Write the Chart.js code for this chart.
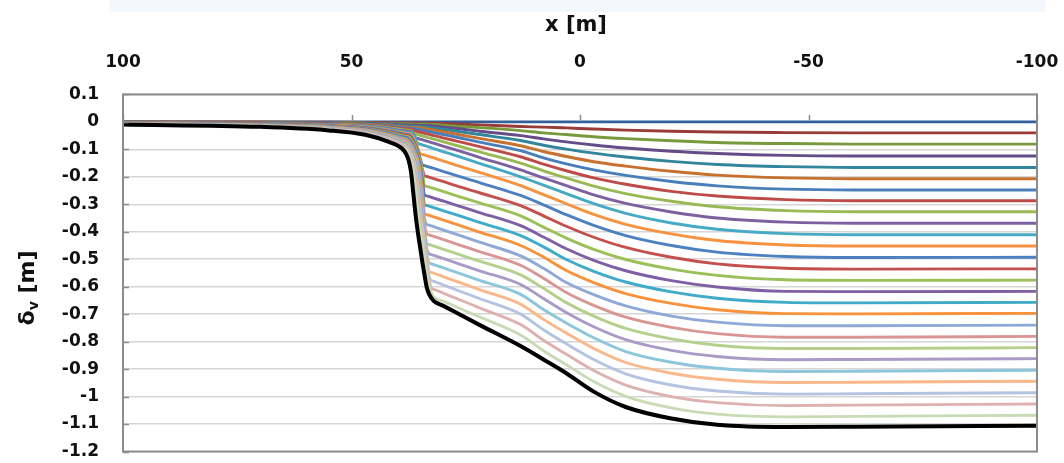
<!DOCTYPE html>
<html><head><meta charset="utf-8">
<script src="https://cdn.jsdelivr.net/npm/chart.js@4.4.1/dist/chart.umd.min.js"></script>
<style>html,body{margin:0;padding:0;background:#fff;overflow:hidden}#wrap{width:1064px;height:463px}</style>
</head><body><div id="wrap"><canvas id="c" width="1064" height="463"></canvas></div>
<script>
// ---- data (x in m, δv in m) ----
const X_TICKS = [100, 50, 0, -50, -100];
const Y_TICKS = [0.1, 0, -0.1, -0.2, -0.3, -0.4, -0.5, -0.6, -0.7, -0.8, -0.9, -1, -1.1, -1.2];
const X_M = [100, 70, 55, 47, 42, 39, 38, 37.5, 37, 36.5, 36, 35.5, 35, 34.5, 34, 33.5, 33, 32.5, 32, 30, 27, 22, 13, 8, 3, -3, -10, -20, -30, -45, -60, -100];

const DV_00 = [0,0,0,0,0,0,0,0,0,0,0,0,0,0,0,0,0,0,0,0,0,0,0,0,0,0,0,0,0,0,0,0];
const DV_01 = [-0.0004,-0.0007,-0.0011,-0.0017,-0.0027,-0.0036,-0.0038,-0.0039,-0.004,-0.004,-0.0041,-0.0042,-0.0043,-0.0043,-0.0044,-0.0044,-0.0045,-0.0045,-0.0047,-0.006,-0.008,-0.011,-0.017,-0.019,-0.022,-0.026,-0.030,-0.034,-0.037,-0.039,-0.040,-0.040];
const DV_02 = [-0.0007,-0.0013,-0.0023,-0.0035,-0.0053,-0.0071,-0.0075,-0.0077,-0.0079,-0.0081,-0.0082,-0.0084,-0.0085,-0.0086,-0.0087,-0.0088,-0.009,-0.0091,-0.0096,-0.012,-0.016,-0.021,-0.032,-0.040,-0.046,-0.054,-0.061,-0.069,-0.075,-0.079,-0.081,-0.081];
const DV_03 = [-0.0011,-0.002,-0.0034,-0.0052,-0.008,-0.0107,-0.0113,-0.0116,-0.0119,-0.0121,-0.0123,-0.0125,-0.0128,-0.0129,-0.0131,-0.0133,-0.0135,-0.0145,-0.0154,-0.019,-0.024,-0.034,-0.050,-0.062,-0.073,-0.084,-0.095,-0.107,-0.115,-0.122,-0.124,-0.124];
const DV_04 = [-0.0015,-0.0027,-0.0046,-0.007,-0.0107,-0.0142,-0.0151,-0.0155,-0.0158,-0.0161,-0.0164,-0.0167,-0.017,-0.0172,-0.0175,-0.0186,-0.0198,-0.021,-0.0222,-0.027,-0.034,-0.046,-0.068,-0.085,-0.099,-0.114,-0.128,-0.144,-0.155,-0.163,-0.166,-0.166];
const DV_05 = [-0.0019,-0.0033,-0.0057,-0.0087,-0.0133,-0.0178,-0.0189,-0.0193,-0.0198,-0.0202,-0.0205,-0.0209,-0.0213,-0.0225,-0.024,-0.0255,-0.027,-0.0285,-0.030,-0.036,-0.045,-0.060,-0.087,-0.108,-0.126,-0.145,-0.161,-0.180,-0.194,-0.204,-0.207,-0.207];
const DV_06 = [-0.0022,-0.004,-0.0069,-0.0104,-0.016,-0.0213,-0.0226,-0.0232,-0.0238,-0.0242,-0.0252,-0.0269,-0.0287,-0.0304,-0.0321,-0.0339,-0.0356,-0.0373,-0.0391,-0.046,-0.056,-0.074,-0.105,-0.131,-0.153,-0.175,-0.195,-0.217,-0.233,-0.245,-0.248,-0.248];
const DV_07 = [-0.0026,-0.0047,-0.008,-0.0122,-0.0187,-0.0249,-0.0264,-0.0271,-0.0277,-0.0316,-0.0336,-0.0357,-0.0377,-0.0397,-0.0418,-0.0438,-0.0458,-0.0479,-0.0499,-0.058,-0.070,-0.090,-0.127,-0.154,-0.178,-0.204,-0.227,-0.253,-0.270,-0.283,-0.287,-0.287];
const DV_08 = [-0.003,-0.0053,-0.0092,-0.0139,-0.0213,-0.0284,-0.0302,-0.0309,-0.0317,-0.0405,-0.0445,-0.0468,-0.0491,-0.0513,-0.0536,-0.0559,-0.0582,-0.0605,-0.0628,-0.072,-0.086,-0.109,-0.150,-0.178,-0.204,-0.234,-0.261,-0.289,-0.309,-0.323,-0.327,-0.327];
const DV_09 = [-0.0033,-0.006,-0.0103,-0.0157,-0.024,-0.032,-0.034,-0.0348,-0.0356,-0.0439,-0.0573,-0.0598,-0.0624,-0.065,-0.0675,-0.0701,-0.0726,-0.0752,-0.0778,-0.088,-0.103,-0.129,-0.175,-0.204,-0.232,-0.266,-0.297,-0.328,-0.350,-0.365,-0.369,-0.369];
const DV_10 = [-0.0037,-0.0067,-0.0115,-0.0174,-0.0267,-0.0355,-0.0377,-0.0387,-0.0396,-0.0473,-0.0616,-0.0782,-0.0809,-0.0837,-0.0864,-0.0891,-0.0918,-0.0945,-0.0972,-0.108,-0.124,-0.151,-0.200,-0.230,-0.261,-0.298,-0.333,-0.368,-0.391,-0.407,-0.411,-0.411];
const DV_11 = [-0.0041,-0.0073,-0.0126,-0.0191,-0.0293,-0.0391,-0.0415,-0.0425,-0.0456,-0.0584,-0.0741,-0.0953,-0.1156,-0.1182,-0.1208,-0.1235,-0.1261,-0.1288,-0.1314,-0.142,-0.158,-0.184,-0.232,-0.265,-0.298,-0.337,-0.373,-0.408,-0.432,-0.448,-0.452,-0.452];
const DV_12 = [-0.0044,-0.008,-0.0138,-0.0209,-0.032,-0.0427,-0.0453,-0.0464,-0.0534,-0.066,-0.0832,-0.1065,-0.131,-0.1567,-0.1593,-0.1619,-0.1645,-0.167,-0.1696,-0.180,-0.196,-0.221,-0.268,-0.302,-0.338,-0.377,-0.414,-0.450,-0.474,-0.490,-0.494,-0.493];
const DV_13 = [-0.0048,-0.0087,-0.0149,-0.0226,-0.0347,-0.0462,-0.0491,-0.0503,-0.059,-0.0712,-0.0883,-0.1124,-0.1356,-0.172,-0.1963,-0.1989,-0.2015,-0.204,-0.2066,-0.217,-0.233,-0.258,-0.305,-0.342,-0.380,-0.420,-0.457,-0.493,-0.517,-0.533,-0.536,-0.535];
const DV_14 = [-0.0052,-0.0093,-0.0161,-0.0244,-0.0373,-0.0498,-0.0529,-0.0542,-0.0641,-0.0763,-0.0932,-0.118,-0.14,-0.18,-0.232,-0.2347,-0.2373,-0.2399,-0.2425,-0.253,-0.269,-0.295,-0.342,-0.383,-0.423,-0.464,-0.501,-0.536,-0.559,-0.575,-0.577,-0.576];
const DV_15 = [-0.0056,-0.01,-0.0172,-0.0261,-0.04,-0.0533,-0.0567,-0.061,-0.071,-0.084,-0.103,-0.1268,-0.156,-0.21,-0.2668,-0.2695,-0.2721,-0.2748,-0.2774,-0.288,-0.304,-0.330,-0.378,-0.419,-0.462,-0.504,-0.542,-0.578,-0.601,-0.617,-0.618,-0.617];
const DV_16 = [-0.0059,-0.0107,-0.0184,-0.0279,-0.0427,-0.0569,-0.0605,-0.0666,-0.0765,-0.0892,-0.108,-0.1334,-0.168,-0.2325,-0.3016,-0.3043,-0.307,-0.3096,-0.3123,-0.323,-0.339,-0.366,-0.414,-0.455,-0.501,-0.544,-0.583,-0.619,-0.642,-0.657,-0.659,-0.657];
const DV_17 = [-0.0063,-0.0113,-0.0195,-0.0296,-0.0453,-0.0604,-0.0643,-0.0719,-0.0817,-0.096,-0.118,-0.14,-0.18,-0.255,-0.335,-0.3379,-0.3406,-0.3433,-0.3461,-0.357,-0.373,-0.401,-0.450,-0.492,-0.541,-0.585,-0.625,-0.661,-0.684,-0.698,-0.699,-0.697];
const DV_18 = [-0.0067,-0.012,-0.0207,-0.0313,-0.048,-0.064,-0.0694,-0.0769,-0.0871,-0.1026,-0.1266,-0.152,-0.2025,-0.279,-0.3545,-0.3734,-0.3762,-0.379,-0.3818,-0.393,-0.410,-0.438,-0.488,-0.533,-0.585,-0.629,-0.670,-0.707,-0.729,-0.742,-0.742,-0.740];
const DV_19 = [-0.007,-0.0127,-0.0218,-0.0331,-0.0507,-0.0676,-0.0742,-0.0811,-0.0923,-0.1092,-0.131,-0.164,-0.225,-0.303,-0.374,-0.4086,-0.4114,-0.4142,-0.4169,-0.428,-0.445,-0.472,-0.522,-0.569,-0.621,-0.668,-0.711,-0.748,-0.771,-0.784,-0.784,-0.781];
const DV_20 = [-0.0074,-0.0133,-0.023,-0.0348,-0.0533,-0.0711,-0.0787,-0.0858,-0.0973,-0.1158,-0.1378,-0.1755,-0.247,-0.327,-0.3935,-0.4436,-0.4464,-0.4492,-0.4519,-0.463,-0.480,-0.507,-0.557,-0.606,-0.658,-0.707,-0.752,-0.790,-0.813,-0.825,-0.825,-0.822];
const DV_21 = [-0.0078,-0.014,-0.0241,-0.0366,-0.056,-0.0747,-0.0829,-0.0904,-0.1027,-0.1224,-0.148,-0.195,-0.271,-0.348,-0.411,-0.466,-0.4802,-0.483,-0.4858,-0.497,-0.514,-0.542,-0.592,-0.643,-0.694,-0.746,-0.793,-0.832,-0.854,-0.866,-0.865,-0.862];
const DV_22 = [-0.0081,-0.0147,-0.0253,-0.0383,-0.0587,-0.0782,-0.0868,-0.0948,-0.1085,-0.129,-0.16,-0.2175,-0.295,-0.3675,-0.4275,-0.4825,-0.5139,-0.5167,-0.5196,-0.531,-0.548,-0.577,-0.628,-0.683,-0.732,-0.786,-0.836,-0.875,-0.897,-0.909,-0.908,-0.904];
const DV_23 = [-0.0085,-0.0153,-0.0264,-0.04,-0.0613,-0.0818,-0.0902,-0.0989,-0.1142,-0.136,-0.172,-0.24,-0.319,-0.387,-0.444,-0.499,-0.5452,-0.5482,-0.5511,-0.563,-0.581,-0.611,-0.664,-0.719,-0.769,-0.825,-0.876,-0.915,-0.937,-0.949,-0.948,-0.944];
const DV_24 = [-0.0089,-0.016,-0.0276,-0.0418,-0.064,-0.0853,-0.094,-0.1033,-0.1202,-0.144,-0.1875,-0.263,-0.3415,-0.4055,-0.4605,-0.515,-0.5645,-0.5773,-0.5804,-0.593,-0.612,-0.643,-0.700,-0.757,-0.808,-0.865,-0.917,-0.958,-0.980,-0.991,-0.990,-0.986];
const DV_25 = [-0.0093,-0.0167,-0.0287,-0.0435,-0.0667,-0.0889,-0.0976,-0.1082,-0.1268,-0.156,-0.21,-0.287,-0.361,-0.422,-0.477,-0.53,-0.578,-0.6061,-0.6095,-0.623,-0.643,-0.677,-0.738,-0.795,-0.846,-0.905,-0.958,-1.000,-1.022,-1.033,-1.031,-1.027];
const DV_26 = [-0.0096,-0.0173,-0.0299,-0.0453,-0.0693,-0.0924,-0.1017,-0.1147,-0.136,-0.172,-0.24,-0.319,-0.387,-0.444,-0.499,-0.55,-0.596,-0.6234,-0.6374,-0.652,-0.674,-0.710,-0.776,-0.833,-0.884,-0.945,-0.999,-1.041,-1.064,-1.074,-1.072,-1.068];
const DV_FINAL = [-0.010,-0.018,-0.031,-0.047,-0.072,-0.096,-0.118,-0.14,-0.18,-0.255,-0.335,-0.40,-0.455,-0.51,-0.56,-0.605,-0.628,-0.642,-0.652,-0.669,-0.695,-0.739,-0.816,-0.865,-0.915,-0.982,-1.038,-1.080,-1.103,-1.111,-1.110,-1.106];

const STAGES = [DV_00,DV_01,DV_02,DV_03,DV_04,DV_05,DV_06,DV_07,DV_08,DV_09,DV_10,DV_11,DV_12,DV_13,DV_14,DV_15,DV_16,DV_17,DV_18,DV_19,DV_20,DV_21,DV_22,DV_23,DV_24,DV_25,DV_26];

// ---- styles ----
const COLORS = ['#33609A','#9A3B38','#789A3C','#634C87','#31859C','#C8702E',
  '#4A7EBB','#BE4B48','#98B954','#7D60A0','#46AAC5','#F69240',
  '#4C80C0','#C4504D','#9BC057','#7F5FA3','#40ABC9','#F8923C',
  '#8EA9D6','#D99593','#B5CF8C','#A99AC6','#8CC6DA','#F9B78A',
  '#B3C3E0','#DDB1B0','#C9DBB5'];

const pts = ys => X_M.map((x, k) => ({x: x, y: ys[k]}));
const datasets = STAGES.map((ys, i) => ({
  data: pts(ys), borderColor: COLORS[i], borderWidth: 2.9,
  order: 100 - i
}));
datasets.push({data: pts(DV_FINAL), borderColor: '#000000', borderWidth: 4, order: 0});

const FONT = '"DejaVu Sans", sans-serif';

const decor = {
  id: 'decor',
  beforeDraw(chart) {
    const ctx = chart.ctx;
    ctx.save();
    ctx.fillStyle = '#ffffff';
    ctx.fillRect(0, 0, chart.width, chart.height);
    ctx.fillStyle = '#F4F7FB';
    ctx.fillRect(109, 0, 936, 12);
    ctx.restore();
  },
  afterDraw(chart) {
    const ctx = chart.ctx, a = chart.chartArea, xs = chart.scales.x, ys = chart.scales.y;
    ctx.save();
    ctx.strokeStyle = '#8C8C8C';
    ctx.lineWidth = 2;
    ctx.strokeRect(a.left, a.top, a.right - a.left, a.bottom - a.top);
    ctx.lineWidth = 1.5;
    Y_TICKS.forEach(v => {
      const py = Math.round(ys.getPixelForValue(v)) + 0.5;
      ctx.beginPath(); ctx.moveTo(a.left, py); ctx.lineTo(a.left + 6, py); ctx.stroke();
    });
    const y0 = ys.getPixelForValue(0);
    X_TICKS.forEach(v => {
      const px = Math.round(xs.getPixelForValue(v)) + 0.5;
      ctx.beginPath(); ctx.moveTo(px, y0 - 1.5); ctx.lineTo(px, y0 - 7); ctx.stroke();
    });
    // x title
    ctx.fillStyle = '#111';
    ctx.textAlign = 'center'; ctx.textBaseline = 'middle';
    ctx.font = 'bold 21px ' + FONT;
    ctx.fillText('x [m]', 576, 26);
    // y title with subscript
    ctx.translate(28, 288);
    ctx.rotate(-Math.PI / 2);
    const fBig = 'bold 22px ' + FONT, fSub = 'bold 14px ' + FONT;
    ctx.font = fBig; const w1 = ctx.measureText('δ').width, w3 = ctx.measureText(' [m]').width;
    ctx.font = fSub; const w2 = ctx.measureText('v').width;
    let sx = -(w1 + w2 + w3) / 2;
    ctx.textAlign = 'left';
    ctx.font = fBig; ctx.fillText('δ', sx, 0); sx += w1;
    ctx.font = fSub; ctx.fillText('v', sx, 6); sx += w2;
    ctx.font = fBig; ctx.fillText(' [m]', sx, 0);
    ctx.restore();
  }
};

new Chart(document.getElementById('c'), {
  type: 'scatter',
  data: {datasets},
  plugins: [decor],
  options: {
    responsive: false, animation: false, devicePixelRatio: 1,
    layout: {padding: {left: 0, right: 27, top: 0, bottom: 11.5}},
    elements: {
      point: {radius: 0, hoverRadius: 0},
      line: {tension: 0, cubicInterpolationMode: 'monotone', fill: false, borderJoinStyle: 'round', borderCapStyle: 'round'}
    },
    datasets: {scatter: {showLine: true}},
    plugins: {legend: {display: false}, tooltip: {enabled: false}, title: {display: false}},
    scales: {
      x: {
        type: 'linear', position: 'top', min: -100, max: 100, reverse: true,
        afterBuildTicks: s => { s.ticks = X_TICKS.map(v => ({value: v})); },
        afterFit: s => { s.height = 94.4; s.paddingLeft = 0; s.paddingRight = 0; },
        grid: {display: false, drawTicks: false},
        border: {display: false},
        ticks: {padding: 22, maxRotation: 0, autoSkip: false, color: '#111',
                font: {family: FONT, weight: 'bold', size: 17},
                callback: v => String(v)}
      },
      y: {
        type: 'linear', min: -1.2, max: 0.1,
        afterBuildTicks: s => { s.ticks = Y_TICKS.map(v => ({value: v})); },
        afterFit: s => { s.width = 123; s.paddingTop = 0; s.paddingBottom = 0; },
        grid: {color: '#D6D6D6', lineWidth: 1.5, drawTicks: false},
        border: {display: false},
        ticks: {padding: 24, autoSkip: false, color: '#111',
                font: {family: FONT, weight: 'bold', size: 17},
                callback: v => String(Number(Number(v).toFixed(1)))}
      }
    }
  }
});
</script>
</body></html>
